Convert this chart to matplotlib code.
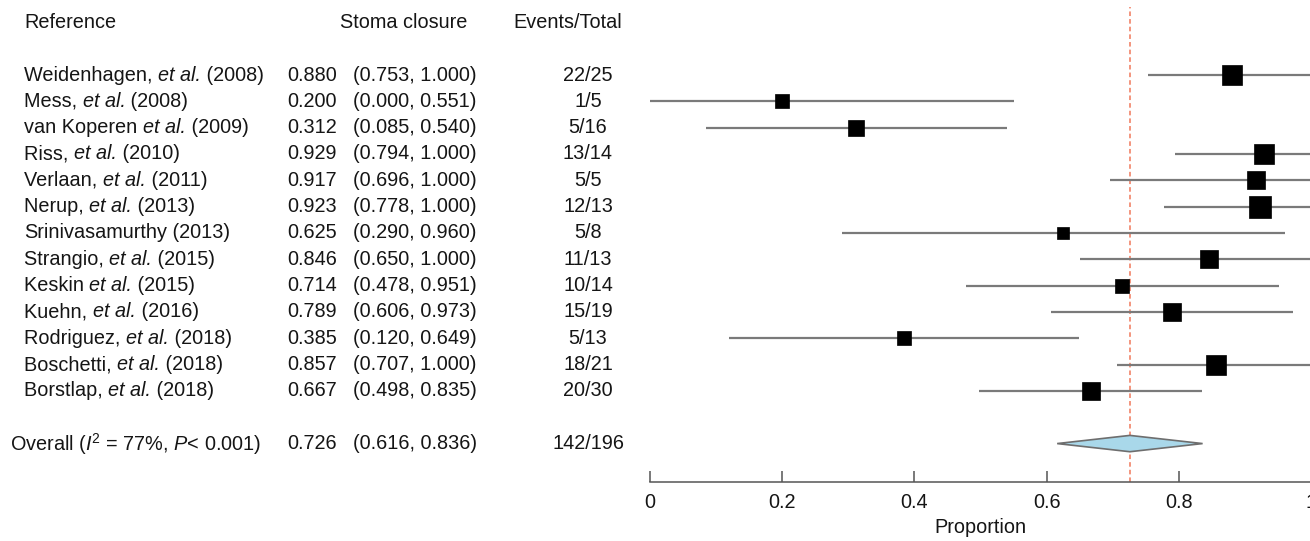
import numpy as np
import matplotlib
matplotlib.use("Agg")
import matplotlib.pyplot as plt
from matplotlib.patches import Polygon
from matplotlib.transforms import blended_transform_factory, offset_copy

plt.rcParams['font.family'] = ['Liberation Sans', 'DejaVu Sans']
plt.rcParams['mathtext.fontset'] = 'custom'
plt.rcParams['mathtext.rm'] = 'Liberation Sans'
plt.rcParams['mathtext.it'] = 'Liberation Sans:italic'

# study-level data: author, italic part, year
authors = ["Weidenhagen, ", "Mess, ", "van Koperen ", "Riss, ", "Verlaan, ", "Nerup, ",
           "Srinivasamurthy", "Strangio, ", "Keskin ", "Kuehn, ", "Rodriguez, ",
           "Boschetti, ", "Borstlap, "]
etal = ["et al.", "et al.", "et al.", "et al.", "et al.", "et al.", "",
        "et al.", "et al.", "et al.", "et al.", "et al.", "et al."]
years = [" (2008)", " (2008)", " (2009)", " (2010)", " (2011)", " (2013)", " (2013)",
         " (2015)", " (2015)", " (2016)", " (2018)", " (2018)", " (2018)"]
prop = [0.880, 0.200, 0.312, 0.929, 0.917, 0.923, 0.625, 0.846, 0.714, 0.789, 0.385, 0.857, 0.667]
lower = [0.753, 0.000, 0.085, 0.794, 0.696, 0.778, 0.290, 0.650, 0.478, 0.606, 0.120, 0.707, 0.498]
upper = [1.000, 0.551, 0.540, 1.000, 1.000, 1.000, 0.960, 1.000, 0.951, 0.973, 0.649, 1.000, 0.835]
events = ["22/25", "1/5", "5/16", "13/14", "5/5", "12/13", "5/8", "11/13", "10/14", "15/19", "5/13", "18/21", "20/30"]
weights = [10.2, 5.0, 6.5, 11.2, 8.2, 12.3, 3.7, 7.4, 5.7, 7.4, 5.0, 9.2, 8.2]  # % weight

overall_label = r"Overall ($I^2$ = 77%, $P$< 0.001)"
overall_est = 0.726
overall_ci = (0.616, 0.836)
overall_events = "142/196"

xticks = [0, 0.2, 0.4, 0.6, 0.8, 1.0]
xticklabels = ["0", "0.2", "0.4", "0.6", "0.8", "1"]

W, H, DPI = 1310, 541, 100
fig = plt.figure(figsize=(W / DPI, H / DPI), dpi=DPI)

ax_bottom = 482
ax = fig.add_axes([650 / W, (H - ax_bottom) / H, 661 / W, ax_bottom / H])
ax.set_xlim(0, 1)
ax.set_ylim(17.46, -0.85)

rows = np.arange(len(authors)) + 2
overall_row = 16
fs = 14.3
txt = dict(fontsize=fs, color='#151515', va='center')
trans = blended_transform_factory(fig.transFigure, ax.transData)
renderer = fig.canvas.get_renderer()


def px(x):
    return x / W


def put_pieces(x, y, pieces):
    # lay out text pieces one after another, each with its own style
    dx = 0
    for s, style in pieces:
        if not s:
            continue
        t = fig.text(px(x), y, s, ha='left', fontstyle=style,
                     transform=offset_copy(trans, fig=fig, x=dx * 72 / DPI, y=0, units='points'), **txt)
        dx += t.get_window_extent(renderer).width


# header row
fig.text(px(24), 0, "Reference", transform=trans, ha='left', **txt)
fig.text(px(404), 0, "Stoma closure", transform=trans, ha='center', **txt)
fig.text(px(568), 0, "Events/Total", transform=trans, ha='center', **txt)

# per-study columns, CI lines and squares
max_side = 22  # px
max_w = max(weights)
for y, a, e, yr, p, lo, hi, ev, w in zip(rows, authors, etal, years, prop, lower, upper, events, weights):
    put_pieces(24, y, [(a, 'normal'), (e, 'italic'), (yr, 'normal')])
    fig.text(px(287), y, f"{p:.3f}", transform=trans, ha='left', **txt)
    fig.text(px(353), y, f"({lo:.3f}, {hi:.3f})", transform=trans, ha='left', **txt)
    fig.text(px(588), y, ev, transform=trans, ha='center', **txt)
    ax.plot([lo, hi], [y, y], color='#7a7a7a', lw=1.6, solid_capstyle='butt', zorder=2)
    side = max_side * np.sqrt(w / max_w) * 72 / DPI
    ax.plot(p, y, marker='s', ms=side, color='black', mec='black', mew=0.5, zorder=3)

# pooled estimate
fig.text(px(10), overall_row, overall_label, transform=trans, ha='left', **txt)
fig.text(px(287), overall_row, f"{overall_est:.3f}", transform=trans, ha='left', **txt)
fig.text(px(353), overall_row, f"({overall_ci[0]:.3f}, {overall_ci[1]:.3f})", transform=trans, ha='left', **txt)
fig.text(px(588), overall_row, overall_events, transform=trans, ha='center', **txt)
dh = 0.31
diamond = Polygon([[overall_ci[0], overall_row], [overall_est, overall_row - dh],
                   [overall_ci[1], overall_row], [overall_est, overall_row + dh]],
                  closed=True, facecolor='#a9d8ea', edgecolor='#6e6e6e', lw=1.2, zorder=3)
ax.add_patch(diamond)

ax.axvline(overall_est, color='#f0785a', lw=1.1, ls=(0, (3, 2)), zorder=1, ymin=0, ymax=0.985)

# axis styling: only the bottom spine, ticks pointing up
for s in ['top', 'right', 'left']:
    ax.spines[s].set_visible(False)
ax.spines['bottom'].set_color('#555555')
ax.spines['bottom'].set_linewidth(1.1)
ax.set_yticks([])
ax.set_xticks(xticks)
ax.set_xticklabels(xticklabels)
ax.tick_params(axis='x', direction='in', length=8, width=1.1, color='#555555',
               labelsize=fs, labelcolor='#151515', pad=8)
ax.set_xlabel("Proportion", fontsize=fs, color='#151515', labelpad=4)
ax.patch.set_alpha(0)

fig.savefig("out.png", dpi=DPI)
